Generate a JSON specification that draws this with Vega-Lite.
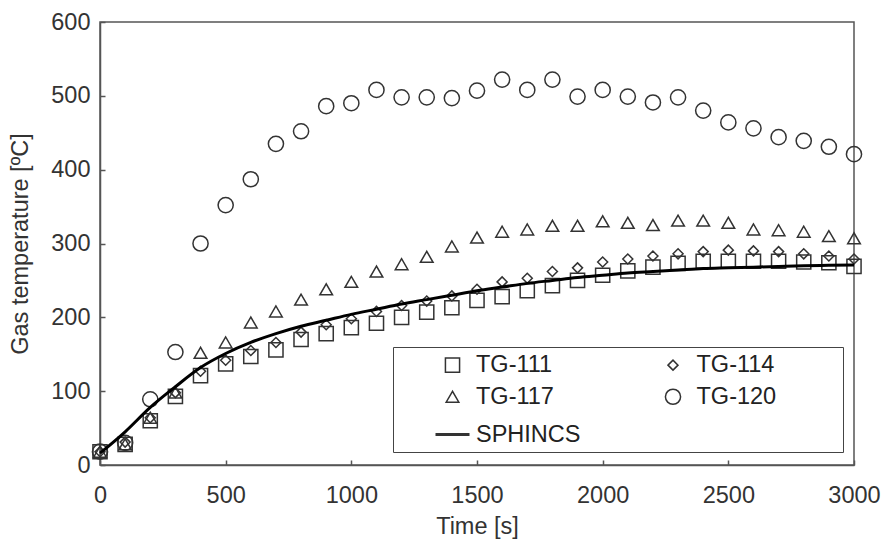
{
  "$schema": "https://vega.github.io/schema/vega-lite/v6.json",
  "width": 754,
  "height": 443,
  "autosize": {"type": "none"},
  "padding": {"left": 100, "top": 22, "right": 31, "bottom": 80},
  "background": "white",
  "config": {
    "font": "Liberation Sans",
    "view": {"stroke": "#555", "strokeWidth": 1.5},
    "axis": {
      "domainColor": "#555", "domainWidth": 1.5,
      "tickColor": "#555", "tickWidth": 1.5, "tickSize": -5,
      "grid": false,
      "labelFont": "Liberation Sans", "labelFontSize": 23.5, "labelColor": "#333",
      "titleFont": "Liberation Sans", "titleFontSize": 23.5, "titleFontWeight": "normal", "titleColor": "#333"
    },
    "legend": {
      "title": "\u00a0",
      "titleOrient": "right",
      "titlePadding": 61,
      "titleFontSize": 23.5,
      "orient": "none",
      "legendX": 293,
      "legendY": 325,
      "direction": "horizontal",
      "columns": 2,
      "padding": 6,
      "columnPadding": 38.5,
      "rowPadding": 7,
      "symbolOffset": 35,
      "labelOffset": 5,
      "labelFont": "Liberation Sans",
      "labelFontSize": 23.5,
      "labelColor": "#222",
      "strokeColor": "#444",
      "symbolStrokeColor": "#333",
      "symbolFillColor": "transparent"
    }
  },
  "datasets": {
    "points": [
      {"series": "TG-111", "time": 0, "temp": 18}, {"series": "TG-111", "time": 100, "temp": 28}, {"series": "TG-111", "time": 200, "temp": 60}, {"series": "TG-111", "time": 300, "temp": 93}, {"series": "TG-111", "time": 400, "temp": 121}, {"series": "TG-111", "time": 500, "temp": 137}, {"series": "TG-111", "time": 600, "temp": 147}, {"series": "TG-111", "time": 700, "temp": 156}, {"series": "TG-111", "time": 800, "temp": 170}, {"series": "TG-111", "time": 900, "temp": 178}, {"series": "TG-111", "time": 1000, "temp": 186}, {"series": "TG-111", "time": 1100, "temp": 192}, {"series": "TG-111", "time": 1200, "temp": 200}, {"series": "TG-111", "time": 1300, "temp": 207}, {"series": "TG-111", "time": 1400, "temp": 213}, {"series": "TG-111", "time": 1500, "temp": 223}, {"series": "TG-111", "time": 1600, "temp": 228}, {"series": "TG-111", "time": 1700, "temp": 236}, {"series": "TG-111", "time": 1800, "temp": 243}, {"series": "TG-111", "time": 1900, "temp": 250}, {"series": "TG-111", "time": 2000, "temp": 257}, {"series": "TG-111", "time": 2100, "temp": 263}, {"series": "TG-111", "time": 2200, "temp": 268}, {"series": "TG-111", "time": 2300, "temp": 273}, {"series": "TG-111", "time": 2400, "temp": 276}, {"series": "TG-111", "time": 2500, "temp": 276}, {"series": "TG-111", "time": 2600, "temp": 276}, {"series": "TG-111", "time": 2700, "temp": 276}, {"series": "TG-111", "time": 2800, "temp": 275}, {"series": "TG-111", "time": 2900, "temp": 274}, {"series": "TG-111", "time": 3000, "temp": 269},
      {"series": "TG-114", "time": 0, "temp": 18}, {"series": "TG-114", "time": 100, "temp": 31}, {"series": "TG-114", "time": 200, "temp": 64}, {"series": "TG-114", "time": 300, "temp": 98}, {"series": "TG-114", "time": 400, "temp": 127}, {"series": "TG-114", "time": 500, "temp": 142}, {"series": "TG-114", "time": 600, "temp": 155}, {"series": "TG-114", "time": 700, "temp": 166}, {"series": "TG-114", "time": 800, "temp": 180}, {"series": "TG-114", "time": 900, "temp": 190}, {"series": "TG-114", "time": 1000, "temp": 198}, {"series": "TG-114", "time": 1100, "temp": 208}, {"series": "TG-114", "time": 1200, "temp": 216}, {"series": "TG-114", "time": 1300, "temp": 222}, {"series": "TG-114", "time": 1400, "temp": 229}, {"series": "TG-114", "time": 1500, "temp": 238}, {"series": "TG-114", "time": 1600, "temp": 248}, {"series": "TG-114", "time": 1700, "temp": 253}, {"series": "TG-114", "time": 1800, "temp": 262}, {"series": "TG-114", "time": 1900, "temp": 267}, {"series": "TG-114", "time": 2000, "temp": 275}, {"series": "TG-114", "time": 2100, "temp": 279}, {"series": "TG-114", "time": 2200, "temp": 283}, {"series": "TG-114", "time": 2300, "temp": 286}, {"series": "TG-114", "time": 2400, "temp": 289}, {"series": "TG-114", "time": 2500, "temp": 291}, {"series": "TG-114", "time": 2600, "temp": 290}, {"series": "TG-114", "time": 2700, "temp": 289}, {"series": "TG-114", "time": 2800, "temp": 286}, {"series": "TG-114", "time": 2900, "temp": 283}, {"series": "TG-114", "time": 3000, "temp": 279},
      {"series": "TG-117", "time": 0, "temp": 18}, {"series": "TG-117", "time": 100, "temp": 28}, {"series": "TG-117", "time": 200, "temp": 64}, {"series": "TG-117", "time": 300, "temp": 98}, {"series": "TG-117", "time": 400, "temp": 152}, {"series": "TG-117", "time": 500, "temp": 166}, {"series": "TG-117", "time": 600, "temp": 193}, {"series": "TG-117", "time": 700, "temp": 208}, {"series": "TG-117", "time": 800, "temp": 224}, {"series": "TG-117", "time": 900, "temp": 238}, {"series": "TG-117", "time": 1000, "temp": 248}, {"series": "TG-117", "time": 1100, "temp": 262}, {"series": "TG-117", "time": 1200, "temp": 272}, {"series": "TG-117", "time": 1300, "temp": 282}, {"series": "TG-117", "time": 1400, "temp": 296}, {"series": "TG-117", "time": 1500, "temp": 308}, {"series": "TG-117", "time": 1600, "temp": 316}, {"series": "TG-117", "time": 1700, "temp": 319}, {"series": "TG-117", "time": 1800, "temp": 324}, {"series": "TG-117", "time": 1900, "temp": 324}, {"series": "TG-117", "time": 2000, "temp": 330}, {"series": "TG-117", "time": 2100, "temp": 328}, {"series": "TG-117", "time": 2200, "temp": 325}, {"series": "TG-117", "time": 2300, "temp": 331}, {"series": "TG-117", "time": 2400, "temp": 331}, {"series": "TG-117", "time": 2500, "temp": 328}, {"series": "TG-117", "time": 2600, "temp": 319}, {"series": "TG-117", "time": 2700, "temp": 318}, {"series": "TG-117", "time": 2800, "temp": 316}, {"series": "TG-117", "time": 2900, "temp": 310}, {"series": "TG-117", "time": 3000, "temp": 307},
      {"series": "TG-120", "time": 0, "temp": 18}, {"series": "TG-120", "time": 100, "temp": 30}, {"series": "TG-120", "time": 200, "temp": 89}, {"series": "TG-120", "time": 300, "temp": 153}, {"series": "TG-120", "time": 400, "temp": 300}, {"series": "TG-120", "time": 500, "temp": 352}, {"series": "TG-120", "time": 600, "temp": 387}, {"series": "TG-120", "time": 700, "temp": 435}, {"series": "TG-120", "time": 800, "temp": 452}, {"series": "TG-120", "time": 900, "temp": 486}, {"series": "TG-120", "time": 1000, "temp": 490}, {"series": "TG-120", "time": 1100, "temp": 508}, {"series": "TG-120", "time": 1200, "temp": 498}, {"series": "TG-120", "time": 1300, "temp": 498}, {"series": "TG-120", "time": 1400, "temp": 497}, {"series": "TG-120", "time": 1500, "temp": 507}, {"series": "TG-120", "time": 1600, "temp": 522}, {"series": "TG-120", "time": 1700, "temp": 508}, {"series": "TG-120", "time": 1800, "temp": 522}, {"series": "TG-120", "time": 1900, "temp": 499}, {"series": "TG-120", "time": 2000, "temp": 508}, {"series": "TG-120", "time": 2100, "temp": 499}, {"series": "TG-120", "time": 2200, "temp": 491}, {"series": "TG-120", "time": 2300, "temp": 498}, {"series": "TG-120", "time": 2400, "temp": 480}, {"series": "TG-120", "time": 2500, "temp": 464}, {"series": "TG-120", "time": 2600, "temp": 456}, {"series": "TG-120", "time": 2700, "temp": 444}, {"series": "TG-120", "time": 2800, "temp": 439}, {"series": "TG-120", "time": 2900, "temp": 431}, {"series": "TG-120", "time": 3000, "temp": 421}
    ],
    "model": [
      {"time": 0, "temp": 16}, {"time": 100, "temp": 45}, {"time": 200, "temp": 78}, {"time": 300, "temp": 106}, {"time": 400, "temp": 132}, {"time": 500, "temp": 151}, {"time": 600, "temp": 166}, {"time": 700, "temp": 178}, {"time": 800, "temp": 188}, {"time": 900, "temp": 196}, {"time": 1000, "temp": 204}, {"time": 1100, "temp": 211}, {"time": 1200, "temp": 218}, {"time": 1300, "temp": 224}, {"time": 1400, "temp": 230}, {"time": 1500, "temp": 236}, {"time": 1600, "temp": 241}, {"time": 1700, "temp": 246}, {"time": 1800, "temp": 250}, {"time": 1900, "temp": 254}, {"time": 2000, "temp": 257}, {"time": 2100, "temp": 260}, {"time": 2200, "temp": 262}, {"time": 2300, "temp": 264}, {"time": 2400, "temp": 266}, {"time": 2500, "temp": 267}, {"time": 2600, "temp": 268}, {"time": 2700, "temp": 269}, {"time": 2800, "temp": 270}, {"time": 2900, "temp": 270.5}, {"time": 3000, "temp": 271}
    ]
  },
  "layer": [
    {
      "data": {"name": "points"},
      "mark": {"type": "point", "filled": false, "color": "#333", "opacity": 1, "clip": false},
      "encoding": {
        "x": {
          "field": "time", "type": "quantitative",
          "scale": {"domain": [0, 3000], "nice": false},
          "axis": {"title": "Time [s]", "format": "d", "values": [0, 500, 1000, 1500, 2000, 2500, 3000], "labelPadding": 23, "titlePadding": 8, "labelFlush": false}
        },
        "y": {
          "field": "temp", "type": "quantitative",
          "scale": {"domain": [0, 600], "nice": false},
          "axis": {"title": "Gas temperature [ºC]", "format": "d", "values": [0, 100, 200, 300, 400, 500, 600], "labelPadding": 15, "titlePadding": 18, "labelFlush": false}
        },
        "shape": {
          "field": "series", "type": "nominal",
          "scale": {"domain": ["TG-111", "TG-114", "TG-117", "TG-120", "SPHINCS"], "range": ["square", "diamond", "triangle-up", "circle", "stroke"]},
          "legend": {"title": "\u00a0", "encode": {"legend": {"strokeWidth": {"value": 1.5}}}}
        },
        "size": {
          "field": "series", "type": "nominal",
          "scale": {"type": "ordinal", "domain": ["TG-111", "TG-114", "TG-117", "TG-120", "SPHINCS"], "range": [200, 100, 160, 230, 1156]},
          "legend": {"title": "\u00a0"}
        },
        "strokeWidth": {
          "field": "series", "type": "nominal",
          "scale": {"type": "ordinal", "domain": ["TG-111", "TG-114", "TG-117", "TG-120", "SPHINCS"], "range": [1.5, 1.5, 1.5, 1.5, 3]},
          "legend": {"title": "\u00a0"}
        }
      }
    },
    {
      "data": {"name": "model"},
      "mark": {"type": "line", "color": "#000", "strokeWidth": 3, "interpolate": "monotone"},
      "encoding": {
        "x": {"field": "time", "type": "quantitative"},
        "y": {"field": "temp", "type": "quantitative"}
      }
    }
  ]
}
